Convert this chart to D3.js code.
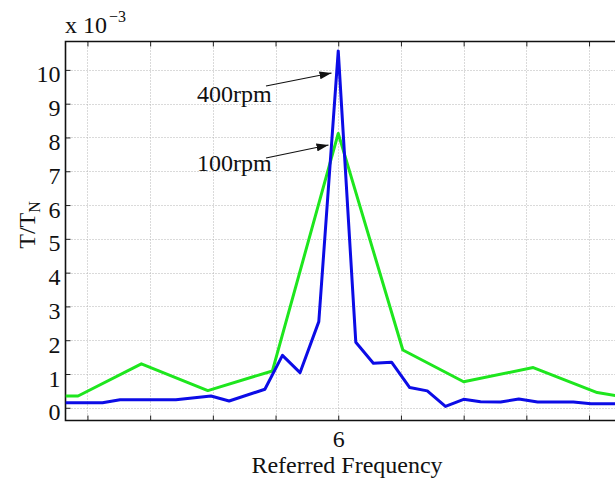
<!DOCTYPE html>
<html>
<head>
<meta charset="utf-8">
<script src="https://cdn.jsdelivr.net/npm/d3@7"></script>
<style>
  html, body { margin: 0; padding: 0; background: #fff; }
  svg { display: block; }
  text { font-family: "Liberation Serif", "Times New Roman", serif; fill: #111; }
</style>
</head>
<body>
<script>
// Torque spectrum around the 6th harmonic (values in units of 1e-3 T/TN)
const freq400 = [1.65, 2.24, 2.52, 3.41, 3.97, 4.26, 4.83, 5.11, 5.39, 5.69, 6.0, 6.28, 6.56, 6.85,
                 7.14, 7.42, 7.71, 8.0, 8.27, 8.59, 8.88, 9.18, 9.75, 10.03, 10.9];
const torque400 = [0.15, 0.15, 0.24, 0.24, 0.35, 0.2, 0.55, 1.55, 1.04, 2.55, 10.56, 1.94, 1.32, 1.35,
                   0.6, 0.5, 0.04, 0.25, 0.18, 0.17, 0.26, 0.17, 0.17, 0.12, 0.12];

const freq100 = [1.65, 1.85, 2.86, 3.92, 4.95, 6.0, 7.03, 8.0, 9.11, 10.13, 10.43, 10.9];
const torque100 = [0.35, 0.35, 1.30, 0.51, 1.09, 8.12, 1.71, 0.77, 1.19, 0.45, 0.36, 0.3];

const xTickValues = [2, 3, 4, 5, 6, 7, 8, 9, 10];
const xTickLabels = ["", "", "", "", "6", "", "", "", ""];
const yTickValues = [0, 1, 2, 3, 4, 5, 6, 7, 8, 9, 10];
const yTickLabels = ["0", "1", "2", "3", "4", "5", "6", "7", "8", "9", "10"];

const seriesNames = ["400rpm", "100rpm"];

// ---- layout ----
const W = 615, H = 480;
const plotLeft = 65.5, plotTop = 41.5, plotBottom = 420.5;
const unitPx = 62.7;
const xMin = 1.65, xMax = 10.95;

const svg = d3.select("body").append("svg").attr("width", W).attr("height", H);

const x = d3.scaleLinear().domain([xMin, xMax]).range([plotLeft, plotLeft + (xMax - xMin) * unitPx]);
const y = d3.scaleLinear().domain([-0.376, 10.84]).range([plotBottom, plotTop]);
const plotRight = x(xMax);

svg.append("clipPath").attr("id", "plot-clip")
  .append("rect").attr("x", plotLeft).attr("y", plotTop)
  .attr("width", plotRight - plotLeft).attr("height", plotBottom - plotTop);

// grid
const grid = svg.append("g").attr("stroke", "#b4b4b4").attr("stroke-width", 1).attr("stroke-dasharray", "1,2");
grid.selectAll("line.vx").data(xTickValues).join("line")
  .attr("x1", d => Math.round(x(d)) + 0.5).attr("x2", d => Math.round(x(d)) + 0.5)
  .attr("y1", plotTop).attr("y2", plotBottom);
grid.selectAll("line.hy").data(yTickValues).join("line")
  .attr("x1", plotLeft).attr("x2", plotRight)
  .attr("y1", d => Math.round(y(d)) + 0.5).attr("y2", d => Math.round(y(d)) + 0.5);

// axes (ticks pointing into the plot)
const xAxis = d3.axisBottom(x).tickValues(xTickValues)
  .tickFormat((d, i) => xTickLabels[i]).tickSizeInner(-5).tickSizeOuter(0).tickPadding(9);
const gx = svg.append("g").attr("transform", `translate(0,${plotBottom})`).call(xAxis);
gx.select(".domain").remove();
gx.selectAll("line").attr("stroke", "#222");
gx.selectAll("text").attr("font-size", 24).attr("font-family", "Liberation Serif").attr("fill", "#111");

const xTopAxis = d3.axisTop(x).tickValues(xTickValues).tickFormat("").tickSizeInner(-5).tickSizeOuter(0);
const gxt = svg.append("g").attr("transform", `translate(0,${plotTop})`).call(xTopAxis);
gxt.select(".domain").remove();
gxt.selectAll("line").attr("stroke", "#222");

const yAxis = d3.axisLeft(y).tickValues(yTickValues)
  .tickFormat((d, i) => yTickLabels[i]).tickSizeInner(-5).tickSizeOuter(0).tickPadding(5);
const gy = svg.append("g").attr("transform", `translate(${plotLeft},0)`).call(yAxis);
gy.select(".domain").remove();
gy.selectAll("line").attr("stroke", "#222");
gy.selectAll("text").attr("font-size", 24).attr("font-family", "Liberation Serif").attr("fill", "#111")
  .attr("dy", "0.5em");

// frame
svg.append("path")
  .attr("d", `M${plotRight},${plotTop}H${plotLeft}V${plotBottom}H${plotRight}`)
  .attr("fill", "none").attr("stroke", "#111").attr("stroke-width", 1.6);

// data lines
const line = d3.line().x(d => x(d[0])).y(d => y(d[1]));
const plot = svg.append("g").attr("clip-path", "url(#plot-clip)");
plot.append("path")
  .datum(freq100.map((f, i) => [f, torque100[i]]))
  .attr("d", line).attr("fill", "none").attr("stroke", "#1ee61e").attr("stroke-width", 3)
  .attr("stroke-linejoin", "round");
plot.append("path")
  .datum(freq400.map((f, i) => [f, torque400[i]]))
  .attr("d", line).attr("fill", "none").attr("stroke", "#0c0ce6").attr("stroke-width", 3)
  .attr("stroke-linejoin", "round");

// annotations
svg.append("defs").append("marker")
  .attr("id", "arrowhead").attr("viewBox", "0 0 12 8").attr("refX", 12).attr("refY", 4)
  .attr("markerWidth", 12).attr("markerHeight", 8).attr("markerUnits", "userSpaceOnUse")
  .attr("orient", "auto")
  .append("path").attr("d", "M0,0L12,4L0,8Z").attr("fill", "#111");

const notes = [
  { label: seriesNames[0], tx: 197, ty: 102, from: [266, 86], to: [331.5, 73] },
  { label: seriesNames[1], tx: 197, ty: 171, from: [266, 158], to: [328.5, 145] }
];
notes.forEach(n => {
  svg.append("line")
    .attr("x1", n.from[0]).attr("y1", n.from[1]).attr("x2", n.to[0]).attr("y2", n.to[1])
    .attr("stroke", "#111").attr("stroke-width", 1.2).attr("marker-end", "url(#arrowhead)");
  svg.append("text").attr("x", n.tx).attr("y", n.ty).attr("font-size", 24).text(n.label);
});

// axis titles
svg.append("text").attr("x", 347).attr("y", 473).attr("text-anchor", "middle")
  .attr("font-size", 24).text("Referred Frequency");

const yt = svg.append("text").attr("transform", "translate(35,225) rotate(-90)")
  .attr("text-anchor", "middle").attr("font-size", 24);
yt.append("tspan").text("T/T");
yt.append("tspan").attr("font-size", 16).attr("dy", 5).text("N");

const ex = svg.append("text").attr("x", 65).attr("y", 33).attr("font-size", 24);
ex.append("tspan").text("x 10");
ex.append("tspan").attr("font-size", 16).attr("dy", -11).attr("dx", 2).text("\u22123");
</script>
</body>
</html>
